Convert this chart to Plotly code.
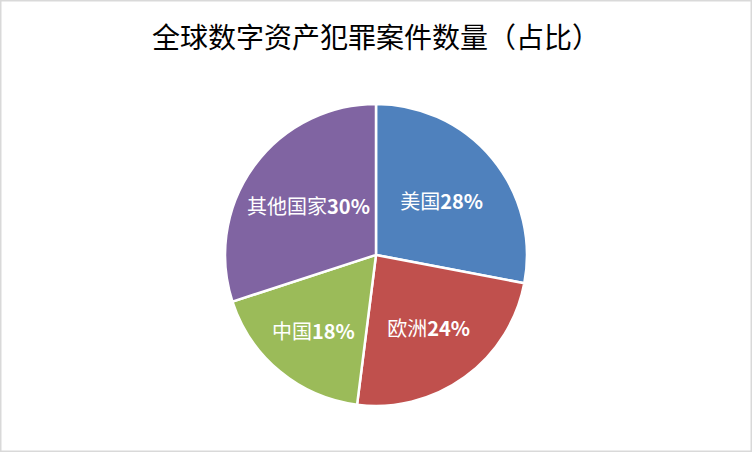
import plotly.graph_objects as go

categories = ["美国", "欧洲", "中国", "其他国家"]
shares = [28, 24, 18, 30]
colors = ["#4F81BD", "#C0504D", "#9BBB59", "#8064A2"]
title_text = "全球数字资产犯罪案件数量（占比）"

fig = go.Figure(go.Pie(
    labels=categories,
    values=shares,
    sort=False,
    direction="clockwise",
    rotation=0,
    marker=dict(colors=colors, line=dict(color="white", width=2.5)),
    texttemplate="%{label}<b>%{value}%</b>",
    textposition="inside",
    insidetextorientation="horizontal",
    textfont=dict(color="white", size=20, family="Noto Sans CJK SC"),
    domain=dict(x=[0.2, 0.8], y=[0.102, 0.770]),
    hoverinfo="label+percent",
    showlegend=False,
))

fig.update_layout(
    width=752, height=452,
    margin=dict(l=0, r=0, t=0, b=0),
    paper_bgcolor="white",
    title=dict(text=title_text, x=0.5, xanchor="center", y=0.915, yanchor="middle",
               font=dict(size=28, color="black", family="Noto Sans CJK SC")),
    uniformtext=dict(minsize=20, mode="show"),
    shapes=[dict(type="rect", xref="paper", yref="paper", x0=0, y0=0, x1=1, y1=1,
                 line=dict(color="#D9D9D9", width=3), fillcolor="rgba(0,0,0,0)")],
)

fig.write_html("out.html", config={"displayModeBar": False},
               post_script="document.body.style.margin='0';")
